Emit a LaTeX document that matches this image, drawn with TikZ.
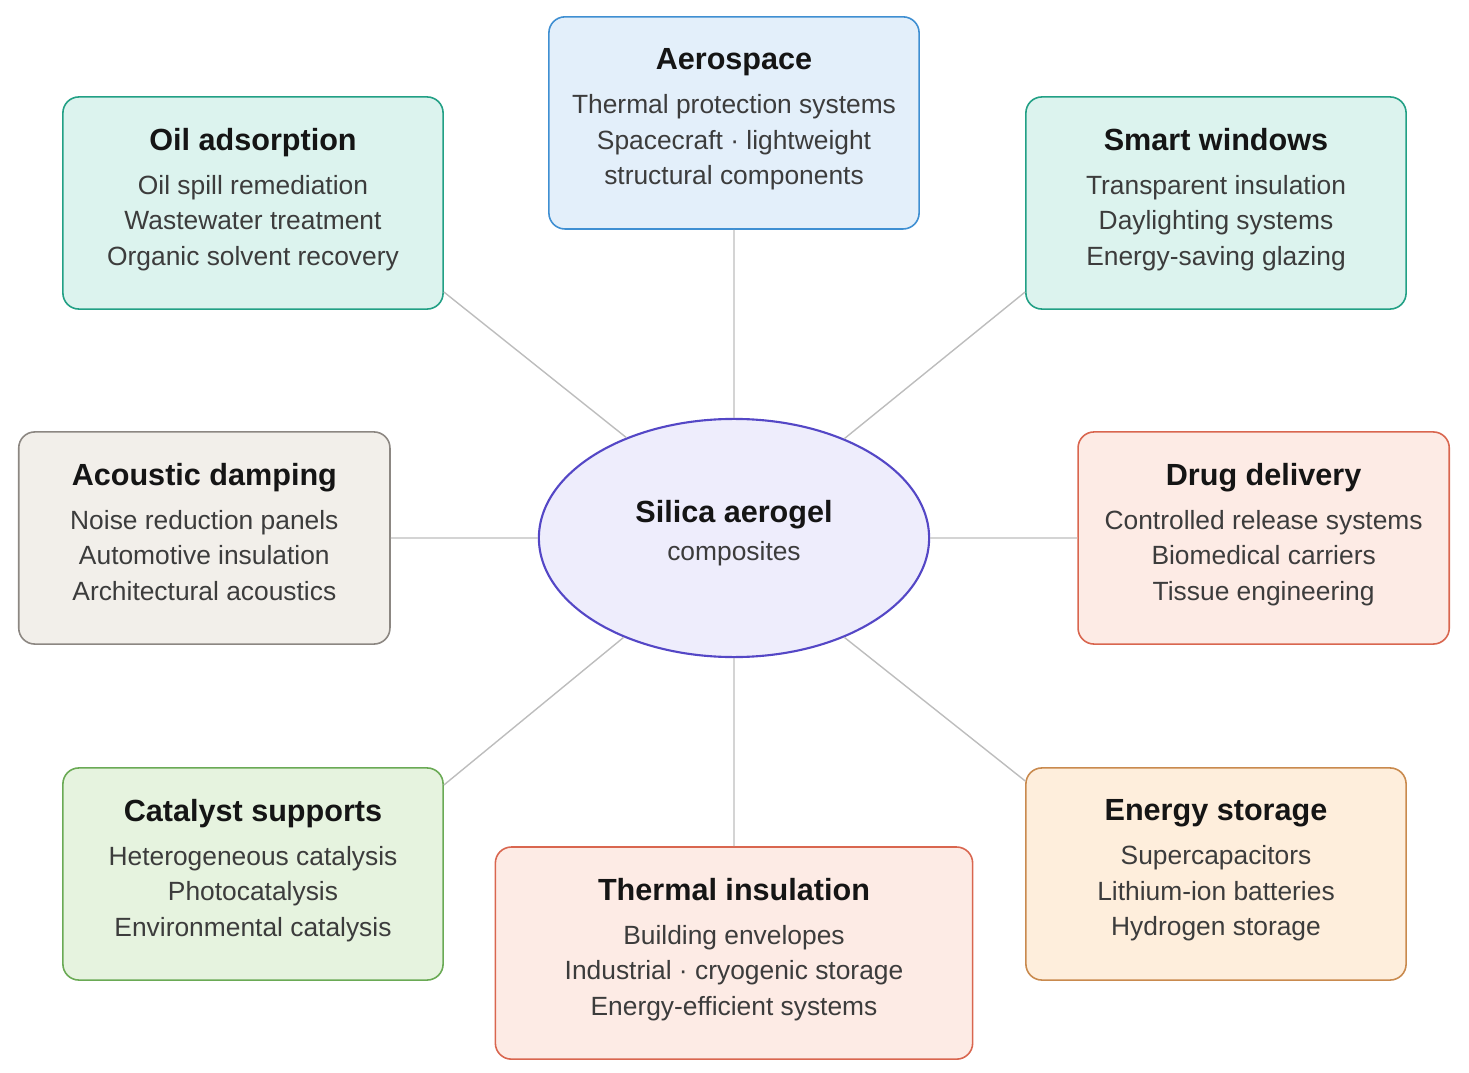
\documentclass[tikz,border=0pt]{standalone}
\usepackage{fontspec}
\setmainfont{Liberation Sans}
\usepackage{tikz}
\usetikzlibrary{shapes.geometric, positioning}

\definecolor{titletext}{HTML}{151515}
\definecolor{bodytext}{HTML}{3C3C3C}
\definecolor{linkgray}{HTML}{BDBDBD}
\definecolor{hubfill}{HTML}{EEEDFC}
\definecolor{hubline}{HTML}{5447C6}
\definecolor{bluefill}{HTML}{E3EFFA}
\definecolor{blueline}{HTML}{3F8FD2}
\definecolor{tealfill}{HTML}{DCF3EE}
\definecolor{tealline}{HTML}{22A085}
\definecolor{sandfill}{HTML}{F2EFEA}
\definecolor{sandline}{HTML}{8C8782}
\definecolor{redfill}{HTML}{FDEBE5}
\definecolor{redline}{HTML}{D9664F}
\definecolor{greenfill}{HTML}{E6F3DF}
\definecolor{greenline}{HTML}{6AAA55}
\definecolor{orangefill}{HTML}{FEEEDC}
\definecolor{orangeline}{HTML}{C98A4E}

\newcommand{\apphead}[1]{{\fontsize{8.7}{10}\selectfont\bfseries\color{titletext}#1}}

\tikzset{
area/.style={rectangle, draw, rounded corners=0.16cm, line width=0.45pt, inner sep=0pt, minimum width=3.8cm, minimum height=2.12cm, align=center, text=bodytext, text depth=3.6pt, font=\fontsize{7.5}{10.1}\selectfont}, % every application box
core/.style={ellipse, draw=hubline, fill=hubfill, line width=0.6pt, inner sep=0pt, minimum width=3.9cm, minimum height=2.38cm, align=center, text=bodytext, text depth=4.4pt, font=\fontsize{7.5}{10.8}\selectfont}, % the central ellipse
link/.style={draw=linkgray, line width=0.4pt}, % spokes
}

\begin{document}
\begin{tikzpicture}[x=0.01cm, y=-0.01cm]
                \useasboundingbox (0,0) rectangle (1469,1073);

                \node[core] (hub) at (734,538) {\apphead{Silica aerogel}\\composites};
                \node[area, fill=bluefill, draw=blueline, minimum width=3.7cm, above=1.88cm of hub] (aero) {\apphead{Aerospace}\\[2.4pt]Thermal protection systems\\Spacecraft · lightweight\\structural components};
                \node[area, fill=redfill, draw=redline, minimum width=4.77cm, below=1.88cm of hub] (thermal) {\apphead{Thermal insulation}\\[2.4pt]Building envelopes\\Industrial · cryogenic storage\\Energy-efficient systems};
                \node[area, fill=sandfill, draw=sandline, minimum width=3.71cm, left=1.47cm of hub] (acoustic) {\apphead{Acoustic damping}\\[2.4pt]Noise reduction panels\\Automotive insulation\\Architectural acoustics};
                \node[area, fill=redfill, draw=redline, minimum width=3.71cm, right=1.47cm of hub] (drug) {\apphead{Drug delivery}\\[2.4pt]Controlled release systems\\Biomedical carriers\\Tissue engineering};
                \node[area, fill=tealfill, draw=tealline] (oil) at (253,203) {\apphead{Oil adsorption}\\[2.4pt]Oil spill remediation\\Wastewater treatment\\Organic solvent recovery};
                \node[area, fill=tealfill, draw=tealline] (smart) at (1216,203) {\apphead{Smart windows}\\[2.4pt]Transparent insulation\\Daylighting systems\\Energy-saving glazing};
                \node[area, fill=greenfill, draw=greenline] (catalyst) at (253,874) {\apphead{Catalyst supports}\\[2.4pt]Heterogeneous catalysis\\Photocatalysis\\Environmental catalysis};
                \node[area, fill=orangefill, draw=orangeline] (energy) at (1216,874) {\apphead{Energy storage}\\[2.4pt]Supercapacitors\\Lithium-ion batteries\\Hydrogen storage};

                \draw[link]
                    (hub) -- (aero)
                    (hub) -- (thermal)
                    (hub) -- (acoustic)
                    (hub) -- (drug)
                    (hub.137.5) -- (oil.-25.3)
                    (hub.42.5) -- (smart.205.3)
                    (hub.222.5) -- (catalyst.25.3)
                    (hub.-42.5) -- (energy.154.7)
                    ;
                \end{tikzpicture}
\end{document}
